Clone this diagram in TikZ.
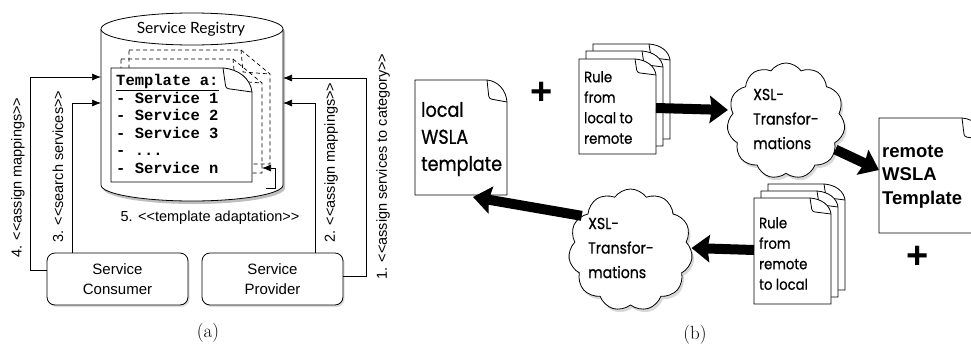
\documentclass[tikz,border=0pt]{standalone}
\usepackage{fontspec}
\setsansfont{Liberation Sans}
\setmonofont{Liberation Mono}
\newfontfamily\futfont[FakeStretch=0.88,FakeBold=0.7]{Poppins}
\newfontfamily\gillfont{Lato}
\usetikzlibrary{arrows.meta,shapes.symbols,shadows,calc}
\newcommand\dlt{<\kern0pt<}
\newcommand\dgt{>\kern0pt>}
% document frame with dog-ear: #1 extra opts, #2 node name, #3 fold x, #4 fold y
\newcommand\docframe[4][]{%
  \filldraw[docline,#1] (#2.north west) -- ($(#2.north east)+(-#3,0)$)
    .. controls ($(#2.north east)+(-0.45*#3,0.05*#4)$) and ($(#2.north east)+(-0.05*#3,0.45*#4)$) .. ($(#2.north east)+(0,#4)$)
    -- (#2.south east) -- (#2.south west) -- cycle;
  \draw[docline,fill=none,rounded corners=2.5pt,#1] ($(#2.north east)+(-#3,0)$) -- ($(#2.north east)+(-0.9*#3,0.85*#4)$) -- ($(#2.north east)+(0,#4)$);
}
\tikzset{
  docline/.style={line width=0.8pt, fill=white},
  geo/.style={inner sep=0pt, outer sep=0pt, draw=none},
  conn/.style={line width=0.7pt, -{Latex[length=9pt,width=7pt]}},
  fatarrow/.style={line width=10pt, -{Stealth[length=18pt,width=27pt,inset=2pt]}},
  dashcopy/.style={line width=0.7pt, dash pattern=on 4pt off 3pt, fill=none},
  lbl/.style={font=\sffamily\fontsize{14.5}{17}\selectfont, inner sep=0pt},
  actorbox/.style={draw, line width=0.8pt, fill=white, rounded corners=8pt, minimum width=141pt, minimum height=52pt, align=center, inner sep=0pt, font=\sffamily\fontsize{15}{20}\selectfont, drop shadow={opacity=0.25, shadow xshift=1.5pt, shadow yshift=-2pt}},
  cloudst/.style={cloud, cloud puffs=11, cloud puff arc=110, draw, line width=0.8pt, fill=white, inner sep=0pt, drop shadow={opacity=0.3, shadow xshift=2pt, shadow yshift=-3pt}},
  futbig/.style={font=\futfont\fontsize{20}{27}\selectfont, align=left, inner sep=0pt, anchor=west},
  futsmall/.style={font=\futfont\fontsize{15}{20.5}\selectfont, align=left, inner sep=0pt, anchor=west},
  futcloud/.style={font=\futfont\fontsize{16}{24.5}\selectfont, align=left, inner sep=0pt, anchor=west},
  plussign/.style={font=\sffamily\bfseries\fontsize{38}{38}\selectfont, inner sep=0pt},
  captxt/.style={font=\rmfamily\fontsize{19}{22}\selectfont, inner sep=0pt}
}
\begin{document}
\begin{tikzpicture}[x=1pt,y=-1pt]
\useasboundingbox (0,0) rectangle (971,354);
\clip (0,0) rectangle (971,354);
% ================= panel (a) =================
\node[geo, minimum width=182pt, minimum height=188pt] (registry) at (192,107) {};
% cylinder shadow
\fill[black, opacity=0.25] (103,32) -- (103,188) arc[start angle=180, end angle=360, x radius=91pt, y radius=16pt] -- (285,32) arc[start angle=0, end angle=180, x radius=91pt, y radius=16pt] -- cycle;
\filldraw[fill=white, line width=0.8pt] (registry.west |- 0,29) -- (registry.west |- 0,185) arc[start angle=180, end angle=360, x radius=91pt, y radius=16pt] -- (registry.east |- 0,29);
\filldraw[fill=white, line width=0.8pt] (192,29) ellipse[x radius=91pt, y radius=16pt];
\node[font=\gillfont\fontsize{15.5}{18}\selectfont, inner sep=0pt] (regtitle) at (191,29) {Service Registry};

% template copies and template
\node[geo, minimum width=141pt, minimum height=114pt] (copytwo) at (199.5,107) {};
\node[geo, minimum width=141pt, minimum height=114pt] (copyone) at (191.5,116) {};
\node[geo, minimum width=141pt, minimum height=114pt] (tmpl) at (181.5,125) {};
\draw[dashcopy] (copytwo.north west) -- ($(copytwo.north east)+(-29,0)$) -- ($(copytwo.north east)+(0,24)$) -- (copytwo.south east) -- (copytwo.south west) -- cycle;
\draw[dashcopy] ($(copytwo.north east)+(-29,0)$) -- ($(copytwo.north east)+(-27,22)$) -- ($(copytwo.north east)+(0,24)$);
\draw[dashcopy] (copyone.north west) -- ($(copyone.north east)+(-29,0)$) -- ($(copyone.north east)+(0,24)$) -- (copyone.south east) -- (copyone.south west) -- cycle;
\draw[dashcopy] ($(copyone.north east)+(-29,0)$) -- ($(copyone.north east)+(-27,22)$) -- ($(copyone.north east)+(0,24)$);
\docframe{tmpl}{29}{24}
\node[font=\ttfamily\bfseries\fontsize{15.5}{17.6}\selectfont, align=left, anchor=west, inner sep=0pt] (tmpltxt) at (116,124) {\underline{Template a:}\\- Service 1\\- Service 2\\- Service 3\\- ...\\- Service n};

% template adaptation loop
\coordinate (adapt) at (266,188);
\draw[conn] (adapt) -- (275,188) -- (275,168) -- (copyone.east |- 0,168);
\node[lbl] (l5) at (210,218) {5. \dlt template adaptation\dgt};

% actor boxes
\node[actorbox] (consumer) at (117.5,279) {Service\\Consumer};
\node[actorbox] (provider) at (272.5,279) {Service\\Provider};

% connectors
\draw[conn] (consumer.west |- 0,270) -- (30,270) -- (30,77) -- (registry.west |- 0,77);
\draw[conn] (consumer.north -| 72,0) -- (72,103) -- (registry.west |- 0,103);
\draw[conn] (provider.north -| 315,0) -- (315,103) -- (registry.east |- 0,103);
\draw[conn] (provider.east |- 0,276) -- (366,276) -- (366,78) -- (registry.east |- 0,78);

\node[lbl, rotate=90, anchor=west] (l4) at (18,258) {4. \dlt assign mappings\dgt};
\node[lbl, rotate=90, anchor=west] (l3) at (58,243) {3. \dlt search services\dgt};
\node[lbl, rotate=90, anchor=west] (l2) at (331,243) {2. \dlt assign mappings\dgt};
\node[lbl, rotate=90, anchor=west] (l1) at (383,280) {1. \dlt assign services to category\dgt};

\node[captxt] (capa) at (208,333) {(a)};

% ================= panel (b) =================
\node[geo, minimum width=92pt, minimum height=115pt] (localdoc) at (461,137.5) {};
\docframe{localdoc}{20}{22}
\node[futbig] (localtxt) at (421,139) {local\\WSLA\\template};

\node[plussign] (plusone) at (542,93) {+};

% rule stack local -> remote
\node[geo, minimum width=77pt, minimum height=95pt] (ruleAc) at (631.5,91.5) {};
\node[geo, minimum width=77pt, minimum height=95pt] (ruleAb) at (624.5,98.5) {};
\node[geo, minimum width=77pt, minimum height=95pt] (ruleAa) at (617.5,106.5) {};
\docframe{ruleAc}{21}{16}
\docframe{ruleAb}{21}{16}
\docframe{ruleAa}{21}{16}
\node[futsmall] (ruleAtxt) at (584,107.5) {Rule\\from\\local to\\remote};

% cloud 1
\node[cloudst, minimum width=118pt, minimum height=116pt] (cloudone) at (786,121) {};
\node[futcloud] (cloudonetxt) at (753,119) {XSL-\\Transfor-\\mations};

% remote doc
\node[geo, minimum width=106pt, minimum height=115pt] (remote) at (932,175.5) {};
\docframe{remote}{23}{22}
\node[font=\sffamily\bfseries\fontsize{18.5}{23.5}\selectfont, align=left, anchor=west, inner sep=0pt] (remotetxt) at (882,176.5) {remote\\WSLA\\Template};
\node[plussign] (plustwo) at (918,257) {+};

% rule stack remote -> local
\node[geo, minimum width=77pt, minimum height=106pt] (ruleBc) at (806.5,237) {};
\node[geo, minimum width=77pt, minimum height=106pt] (ruleBb) at (799.5,244) {};
\node[geo, minimum width=77pt, minimum height=106pt] (ruleBa) at (792.5,251) {};
\docframe{ruleBc}{21}{16}
\docframe{ruleBb}{21}{16}
\docframe{ruleBa}{21}{16}
\node[futsmall] (ruleBtxt) at (759,253.5) {Rule\\from\\remote\\to local};

% cloud 2
\node[cloudst, minimum width=124pt, minimum height=122pt] (cloudtwo) at (630.5,250) {};
\node[futcloud] (cloudtwotxt) at (588,248) {XSL-\\Transfor-\\mations};

% thick arrows
\draw[fatarrow] (ruleAa.east |- 0,108) -- (cloudone.west |- 0,110);
\draw[fatarrow] (cloudone.-30) -- (remote.west |- 0,170);
\draw[fatarrow] (ruleBa.west |- 0,250) -- (cloudtwo.east |- 0,248);
\draw[fatarrow] (cloudtwo.145) -- ([xshift=-34pt,yshift=-2pt]localdoc.south east);

\node[captxt] (capb) at (695,335) {(b)};
\end{tikzpicture}
\end{document}
